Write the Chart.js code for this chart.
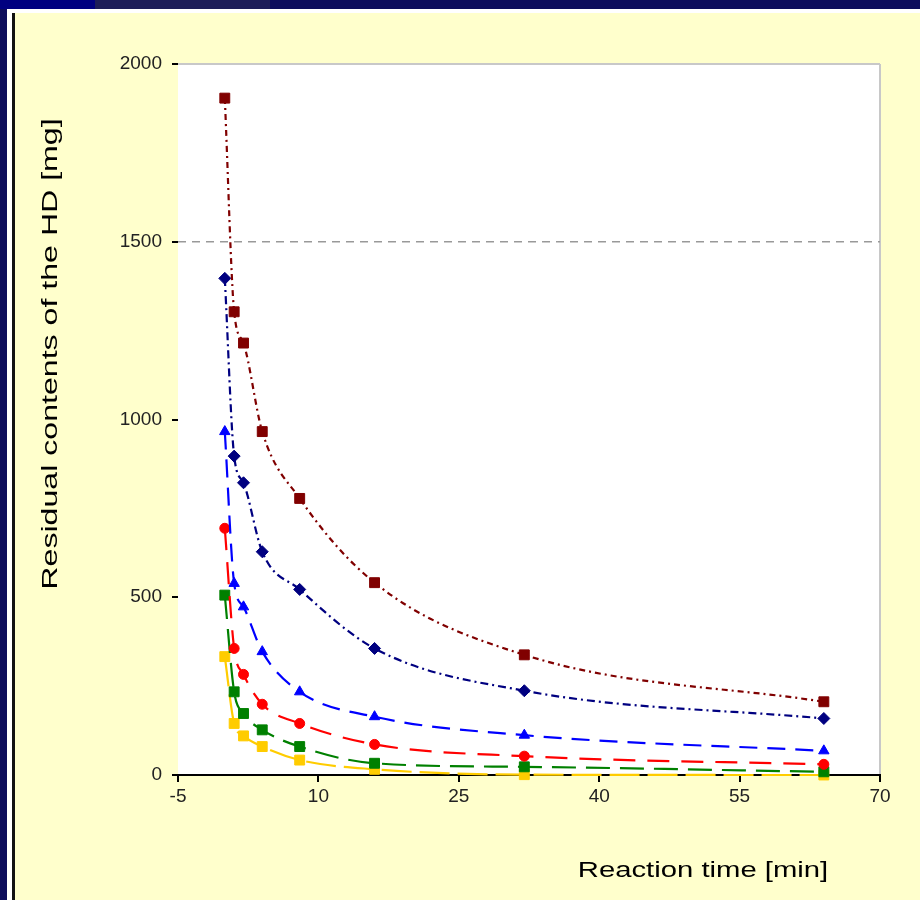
<!DOCTYPE html>
<html>
<head>
<meta charset="utf-8">
<script src="https://cdn.jsdelivr.net/npm/chart.js@4.4.1/dist/chart.umd.min.js"></script>
<style>
    body {
        margin: 0;
        width: 920px;
        height: 900px;
        position: relative;
        overflow: hidden;
        background: #0c0c5c;
    }
    .topbar {
        position: absolute;
        left: 0; top: 0; width: 920px; height: 9px;
        background: linear-gradient(to right, #000080 0 95px, #1d1d58 95px 270px, #0c0c5c 270px);
    }
    .panel {
        position: absolute;
        left: 7px; top: 9px; right: 0; bottom: 0;
        background: #ffffff;
    }
    .yellow {
        position: absolute;
        left: 12px; top: 13px; right: 0; bottom: 0;
        background: #ffffcc;
        border-left: 3px solid #111;
    }
    #chart {
        position: absolute;
        left: 0; top: 0;
    }
</style>
</head>
<body>
<div class="topbar"></div>
<div class="panel"></div>
<div class="yellow"></div>
<canvas id="chart" width="920" height="900"></canvas>
<script>
// reaction time [min]
const times = [0, 1, 2, 4, 8, 16, 32, 64];

// residual HD [mg] per run
const maroonVals = [1904, 1303, 1215, 966, 778, 541, 338, 206];
const navyVals = [1397, 897, 822, 628, 522, 356, 237, 159];
const blueVals = [966, 539, 473, 347, 234, 164, 112, 68];
const redVals = [694, 356, 283, 199, 145, 86, 53, 30];
const greenVals = [506, 234, 173, 127, 80, 33, 23, 9];
const yellowVals = [333, 145, 110, 80, 42, 16, 1, 0];

// reference level
const limitX = [-5, 70];
const limitY = [1500, 1500];

const xTicks = ["-5", "10", "25", "40", "55", "70"];
const yTicks = ["0", "500", "1000", "1500", "2000"];

const xTitle = "Reaction time [min]";
const yTitle = "Residual contents of the HD [mg]";

function pts(xs, ys) {
    return xs.map((x, i) => ({ x: x, y: ys[i] }));
}

function series(vals, color, style, radius, dash) {
    return {
        data: pts(times, vals),
        showLine: true,
        borderColor: color,
        backgroundColor: color,
        borderWidth: 2.2,
        borderDash: dash,
        cubicInterpolationMode: "monotone",
        pointStyle: style,
        pointRadius: radius,
        pointBorderWidth: 1,
        clip: false,
    };
}

// axis titles, stretched sideways like the source picture
function stretchedText(ctx, text, x, y, angle, sx) {
    ctx.save();
    ctx.fillStyle = "#000";
    ctx.font = '22px "Liberation Sans", Arial, sans-serif';
    ctx.textAlign = "center";
    ctx.textBaseline = "middle";
    ctx.translate(x, y);
    ctx.rotate(angle);
    ctx.scale(sx, 1);
    ctx.fillText(text, 0, 0);
    ctx.restore();
}

const axisTitles = {
    id: "axisTitles",
    afterDraw(chart) {
        stretchedText(chart.ctx, yTitle, 51, 354, -Math.PI / 2, 1.46);
        stretchedText(chart.ctx, xTitle, 703, 871, 0, 1.33);
    },
};

const plotBg = {
    id: "plotBg",
    beforeDraw(chart) {
        const a = chart.chartArea;
        chart.ctx.save();
        chart.ctx.fillStyle = "#ffffff";
        chart.ctx.fillRect(a.left, a.top, a.right - a.left, a.bottom - a.top);
        chart.ctx.restore();
    },
};

const tickFont = { family: "Liberation Sans", size: 19 };

new Chart(document.getElementById("chart").getContext("2d"), {
    type: "scatter",
    data: {
        datasets: [
            {
                data: pts(limitX, limitY),
                showLine: true,
                borderColor: "#999999",
                borderWidth: 1.5,
                borderDash: [8, 6],
                pointRadius: 0,
            },
            series(maroonVals, "#800000", "rect", 7, [6, 4, 2, 4]),
            series(navyVals, "#000080", "rectRot", 6, [8, 4, 2, 4]),
            series(blueVals, "#0000ff", "triangle", 6, [18, 10]),
            series(redVals, "#ff0000", "circle", 5, [22, 12]),
            series(greenVals, "#008000", "rect", 7, [24, 10]),
            series(yellowVals, "#ffcc00", "rect", 7, [30, 8]),
        ],
    },
    options: {
        responsive: false,
        animation: false,
        layout: { padding: { top: 64, right: 40, left: 0, bottom: 0 } },
        plugins: {
            legend: { display: false },
            tooltip: { enabled: false },
        },
        scales: {
            x: {
                type: "linear",
                min: -5,
                max: 70,
                afterFit: (scale) => { scale.height = 125; },
                ticks: {
                    stepSize: 15,
                    padding: 3,
                    color: "#222",
                    font: tickFont,
                    callback: (v, i) => xTicks[i],
                },
                grid: {
                    color: (c) => (c.tick && c.tick.value === 70 ? "#c8c8c8" : "transparent"),
                    lineWidth: 2,
                    tickColor: "#000",
                    tickLength: 7,
                    tickWidth: 2,
                },
                border: { color: "#000", width: 2 },
            },
            y: {
                min: 0,
                max: 2000,
                afterFit: (scale) => { scale.width = 178; },
                ticks: {
                    stepSize: 500,
                    padding: 10,
                    color: "#222",
                    font: tickFont,
                    callback: (v, i) => yTicks[i],
                },
                grid: {
                    color: (c) => (c.tick && c.tick.value === 2000 ? "#c8c8c8" : "transparent"),
                    lineWidth: 2,
                    tickColor: "#000",
                    tickLength: 6,
                    tickWidth: 2,
                },
                border: { display: false },
            },
        },
    },
    plugins: [plotBg, axisTitles],
});
</script>
</body>
</html>
